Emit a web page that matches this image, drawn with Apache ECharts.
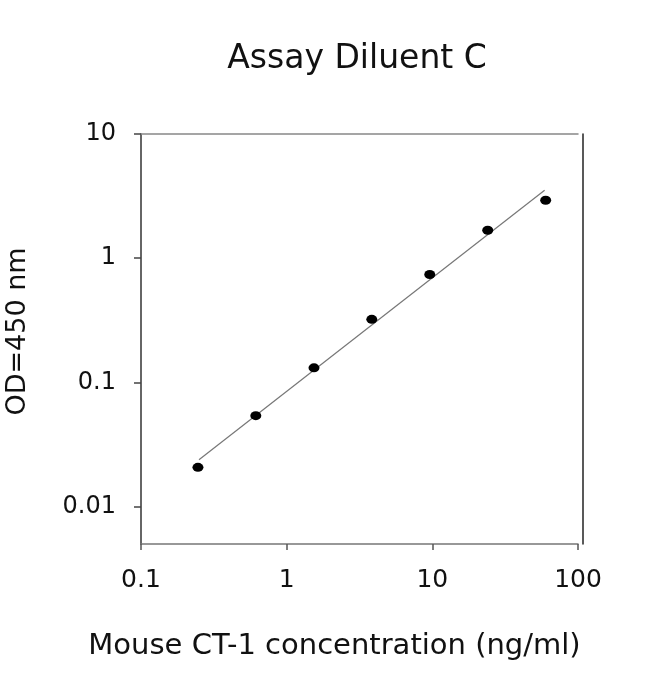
<!DOCTYPE html>
<html>
<head>
<meta charset="utf-8">
<title>Assay Diluent C</title>
<script src="https://cdn.jsdelivr.net/npm/echarts@6.0.0/dist/echarts.min.js"></script>
<style>
    html, body {
        margin: 0;
        padding: 0;
        background: #fff;
    }
    #chart {
        width: 650px;
        height: 674px;
    }
</style>
</head>
<body>
<div id="chart"></div>
<script>
// standard curve readings
const concentration = [0.246, 0.614, 1.54, 3.84, 9.6, 24, 60];
const od450 = [0.0207, 0.054, 0.131, 0.322, 0.739, 1.68, 2.93];

// fitted line end points
const fitX = [0.25, 59];
const fitY = [0.0238, 3.53];

// tick labels
const xTicks = [0.1, 1, 10, 100];
const yTicks = [0.01, 0.1, 1, 10];

const font = 'DejaVu Sans';

let points = concentration.map((c, i) => [c, od450[i]]);
let fitLine = fitX.map((x, i) => [x, fitY[i]]);

let chart = echarts.init(document.getElementById('chart'), null, {renderer: 'canvas'});

chart.setOption({
    animation: false,
    backgroundColor: '#fff',
    title: {
        text: 'Assay Diluent C',
        left: 352,
        top: 38,
        textAlign: 'center',
        textStyle: {
            fontFamily: font,
            fontSize: 33,
            fontWeight: 'normal',
            color: '#111'
        }
    },
    grid: {
        left: 141,
        right: 72,
        top: 134,
        bottom: 130,
        outerBoundsMode: 'none'
    },
    xAxis: [{
        type: 'log',
        logBase: 10,
        min: 0.1,
        max: 100,
        name: 'Mouse CT-1 concentration (ng/ml)',
        nameLocation: 'middle',
        nameGap: 88,
        nameTextStyle: {
            fontFamily: font,
            fontSize: 29,
            color: '#111',
            padding: [0, 50, 0, 0]
        },
        axisLine: {lineStyle: {color: '#777', width: 1.5}},
        axisTick: {
            customValues: xTicks,
            length: 6,
            lineStyle: {color: '#555', width: 1.5}
        },
        axisLabel: {
            customValues: xTicks,
            margin: 24,
            fontFamily: font,
            fontSize: 25,
            color: '#111',
            formatter: v => String(v)
        },
        splitLine: {show: false}
    }, {
        type: 'log',
        min: 0.1,
        max: 100,
        position: 'top',
        axisLine: {lineStyle: {color: '#888', width: 1.5}},
        axisTick: {show: false},
        axisLabel: {show: false},
        splitLine: {show: false}
    }],
    yAxis: [{
        type: 'log',
        logBase: 10,
        min: 0.005,
        max: 10,
        name: 'OD=450 nm',
        nameLocation: 'middle',
        nameGap: 110,
        nameRotate: 90,
        nameTextStyle: {
            fontFamily: font,
            fontSize: 27,
            color: '#111',
            padding: [0, 0, 0, 15]
        },
        axisLine: {lineStyle: {color: '#333', width: 1.5}},
        axisTick: {
            customValues: yTicks,
            length: 7,
            lineStyle: {color: '#444', width: 1.5}
        },
        axisLabel: {
            customValues: yTicks,
            margin: 25,
            fontFamily: font,
            fontSize: 24,
            color: '#111',
            formatter: v => String(v)
        },
        splitLine: {show: false}
    }, {
        type: 'log',
        min: 0.005,
        max: 10,
        position: 'right',
        offset: 5,
        axisLine: {lineStyle: {color: '#222', width: 1.5}},
        axisTick: {show: false},
        axisLabel: {show: false},
        splitLine: {show: false}
    }],
    series: [{
        name: 'fit',
        type: 'line',
        data: fitLine,
        symbol: 'none',
        lineStyle: {color: '#777', width: 1.2},
        z: 2
    }, {
        name: 'OD',
        type: 'scatter',
        data: points,
        symbol: 'circle',
        symbolSize: [11, 9],
        itemStyle: {color: '#000', opacity: 1},
        z: 3
    }]
});
</script>
</body>
</html>
